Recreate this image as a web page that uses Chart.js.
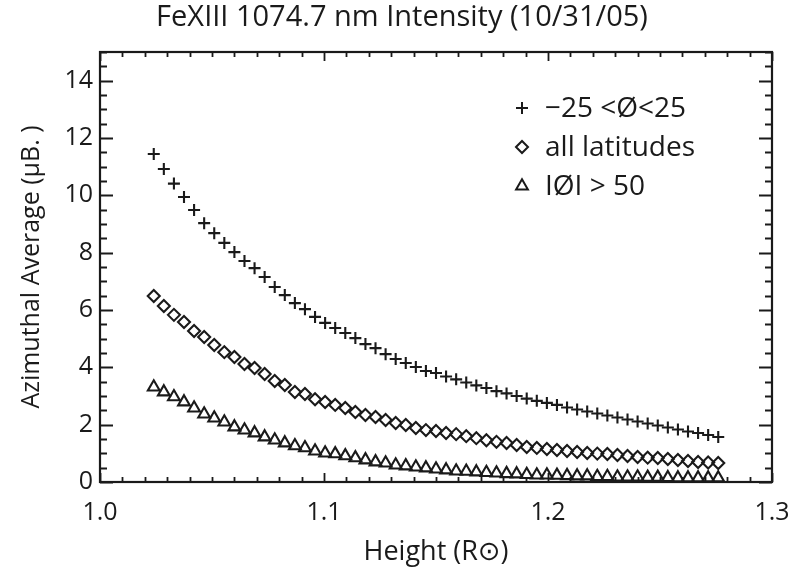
<!DOCTYPE html>
<html>
<head>
<meta charset="utf-8">
<title>FeXIII 1074.7 nm Intensity</title>
<script src="https://cdn.jsdelivr.net/npm/chart.js@4.4.1/dist/chart.umd.min.js"></script>
<style>
  html, body { margin: 0; padding: 0; background: #fff; }
  #wrap { width: 788px; height: 573px; }
</style>
</head>
<body>
<div id="wrap"><canvas id="fexChart" width="788" height="573"></canvas></div>
<script>
// Heights (R_sun) of the sample points
const heights = [
  1.0240, 1.0285, 1.0330, 1.0375, 1.0420, 1.0465, 1.0510, 1.0555, 1.0600, 1.0645,
  1.0690, 1.0735, 1.0780, 1.0825, 1.0870, 1.0915, 1.0960, 1.1005, 1.1050, 1.1095,
  1.1140, 1.1185, 1.1230, 1.1275, 1.1320, 1.1365, 1.1410, 1.1455, 1.1500, 1.1545,
  1.1590, 1.1635, 1.1680, 1.1725, 1.1770, 1.1815, 1.1860, 1.1905, 1.1950, 1.1995,
  1.2040, 1.2085, 1.2130, 1.2175, 1.2220, 1.2265, 1.2310, 1.2355, 1.2400, 1.2445,
  1.2490, 1.2535, 1.2580, 1.2625, 1.2670, 1.2715, 1.2760
];

// -25 < lat < 25
const equatorValues = [
  11.44, 10.92, 10.41, 9.94, 9.49, 9.03, 8.68, 8.34, 8.02, 7.71,
  7.46, 7.15, 6.80, 6.52, 6.24, 6.03, 5.76, 5.55, 5.37, 5.20,
  5.02, 4.81, 4.67, 4.46, 4.29, 4.15, 4.01, 3.87, 3.80, 3.68,
  3.58, 3.47, 3.37, 3.28, 3.17, 3.09, 3.00, 2.91, 2.83, 2.76,
  2.69, 2.60, 2.53, 2.46, 2.39, 2.32, 2.25, 2.18, 2.11, 2.04,
  1.97, 1.90, 1.83, 1.76, 1.71, 1.64, 1.57
];

// all latitudes
const allLatValues = [
  6.49, 6.14, 5.83, 5.58, 5.27, 5.06, 4.78, 4.53, 4.36, 4.12,
  3.98, 3.77, 3.52, 3.38, 3.14, 3.07, 2.89, 2.79, 2.69, 2.58,
  2.44, 2.34, 2.27, 2.16, 2.06, 1.99, 1.88, 1.81, 1.78, 1.71,
  1.67, 1.60, 1.53, 1.46, 1.40, 1.36, 1.29, 1.22, 1.19, 1.15,
  1.12, 1.08, 1.05, 1.01, 0.99, 0.98, 0.94, 0.91, 0.87, 0.85,
  0.84, 0.80, 0.77, 0.73, 0.70, 0.68, 0.66
];

// |lat| > 50
const polarValues = [
  3.31, 3.14, 2.97, 2.79, 2.58, 2.37, 2.23, 2.09, 1.92, 1.81,
  1.71, 1.57, 1.46, 1.36, 1.26, 1.19, 1.08, 1.01, 0.98, 0.91,
  0.84, 0.77, 0.70, 0.66, 0.59, 0.56, 0.52, 0.49, 0.45, 0.42,
  0.38, 0.37, 0.35, 0.33, 0.31, 0.29, 0.28, 0.26, 0.24, 0.24,
  0.23, 0.22, 0.21, 0.21, 0.19, 0.19, 0.17, 0.17, 0.17, 0.16,
  0.16, 0.15, 0.14, 0.14, 0.14, 0.14, 0.14
];

const seriesLabels = ["\u221225 <\u00D8<25", "all latitudes", "I\u00D8I > 50"];
const xTickValues = [1.0, 1.1, 1.2, 1.3];
const yTickValues = [0, 2, 4, 6, 8, 10, 12, 14];

const ink = "#1a1a1a";
const fontFamily = "'Open Sans', 'DejaVu Sans', sans-serif";

function toPoints(values) {
    return values.map((v, i) => ({ x: heights[i], y: v }));
}

// Frame with inward ticks on all four sides (IDL style)
const frameTicks = {
    id: "frameTicks",
    afterDatasetsDraw(chart) {
        const { ctx, chartArea: a, scales: { x, y } } = chart;
        ctx.save();
        ctx.strokeStyle = ink;
        ctx.lineWidth = 1.8;
        ctx.beginPath();
        // x ticks every 0.01, major every 0.1
        for (let k = 0; k <= 30; k++) {
            const v = 1.0 + k * 0.01;
            const px = Math.round(x.getPixelForValue(v)) + 0.5;
            const len = k % 10 === 0 ? 9 : 5;
            ctx.moveTo(px, a.bottom); ctx.lineTo(px, a.bottom - len);
            ctx.moveTo(px, a.top); ctx.lineTo(px, a.top + len);
        }
        // y ticks every 0.5, major every 2
        for (let k = 0; k <= 30; k++) {
            const v = k * 0.5;
            const py = Math.round(y.getPixelForValue(v)) + 0.5;
            const len = k % 4 === 0 ? 13 : 7;
            ctx.moveTo(a.left, py); ctx.lineTo(a.left + len, py);
            ctx.moveTo(a.right, py); ctx.lineTo(a.right - len, py);
        }
        ctx.stroke();
        ctx.lineWidth = 2.2;
        ctx.strokeRect(a.left, a.top, a.right - a.left, a.bottom - a.top);
        ctx.restore();
    }
};

// Legend drawn inside the plot area
const innerLegend = {
    id: "innerLegend",
    afterDraw(chart) {
        const { ctx, chartArea: a } = chart;
        const rows = [56, 95, 134];
        ctx.save();
        ctx.font = "28px " + fontFamily;
        ctx.textBaseline = "middle";
        chart.data.datasets.forEach((ds, i) => {
            const cy = a.top + rows[i];
            ctx.strokeStyle = ink;
            ctx.fillStyle = "rgba(0,0,0,0)";
            ctx.lineWidth = 2;
            Chart.helpers.drawPoint(ctx, {
                pointStyle: ds.pointStyle,
                radius: ds.pointRadius,
                rotation: 0,
                borderWidth: 2
            }, a.left + 422, cy);
            ctx.fillStyle = ink;
            ctx.fillText(ds.label, a.left + 445, cy + 1);
        });
        ctx.restore();
    }
};

const ctx = document.getElementById("fexChart").getContext("2d");

new Chart(ctx, {
    type: "scatter",
    data: {
        datasets: [
            {
                label: seriesLabels[0],
                data: toPoints(equatorValues),
                pointStyle: "cross",
                pointRadius: 6,
                borderColor: ink,
                borderWidth: 2.1,
                backgroundColor: "rgba(0,0,0,0)"
            },
            {
                label: seriesLabels[1],
                data: toPoints(allLatValues),
                pointStyle: "rectRot",
                pointRadius: 6,
                borderColor: ink,
                borderWidth: 2.1,
                backgroundColor: "rgba(0,0,0,0)"
            },
            {
                label: seriesLabels[2],
                data: toPoints(polarValues),
                pointStyle: "triangle",
                pointRadius: 6.8,
                borderColor: ink,
                borderWidth: 2.1,
                backgroundColor: "rgba(0,0,0,0)"
            }
        ]
    },
    options: {
        responsive: false,
        devicePixelRatio: 1,
        animation: false,
        layout: { padding: { left: 16, right: 0, top: 0, bottom: 0 } },
        plugins: {
            legend: { display: false },
            tooltip: { enabled: false },
            title: {
                display: true,
                text: "FeXIII 1074.7 nm Intensity (10/31/05)",
                color: ink,
                font: { family: fontFamily, size: 29, weight: "normal" },
                padding: { top: 0.5, bottom: 16.7 }
            }
        },
        scales: {
            x: {
                type: "linear",
                min: 1.0,
                max: 1.3,
                afterBuildTicks: s => { s.ticks = xTickValues.map(v => ({ value: v })); },
                afterFit: s => { s.height = 91; s.paddingLeft = 0; s.paddingRight = 16; },
                grid: { display: false, drawTicks: false },
                border: { display: false },
                ticks: {
                    color: ink,
                    padding: 16,
                    maxRotation: 0,
                    font: { family: fontFamily, size: 25 },
                    callback: v => v.toFixed(1)
                },
                title: {
                    display: true,
                    text: "Height (R\u2299)",
                    color: ink,
                    font: { family: fontFamily, size: 27 },
                    padding: { top: 0, bottom: 4.8 }
                }
            },
            y: {
                type: "linear",
                min: 0,
                max: 15,
                afterBuildTicks: s => { s.ticks = yTickValues.map(v => ({ value: v })); },
                afterFit: s => { s.width = 84; },
                grid: { display: false, drawTicks: false },
                border: { display: false },
                ticks: {
                    color: ink,
                    padding: 7,
                    font: { family: fontFamily, size: 25 }
                },
                title: {
                    display: true,
                    text: "Azimuthal Average (\u00B5B. )",
                    color: ink,
                    font: { family: fontFamily, size: 25 },
                    padding: { top: 1, bottom: 0 }
                }
            }
        }
    },
    plugins: [frameTicks, innerLegend]
});
</script>
</body>
</html>
